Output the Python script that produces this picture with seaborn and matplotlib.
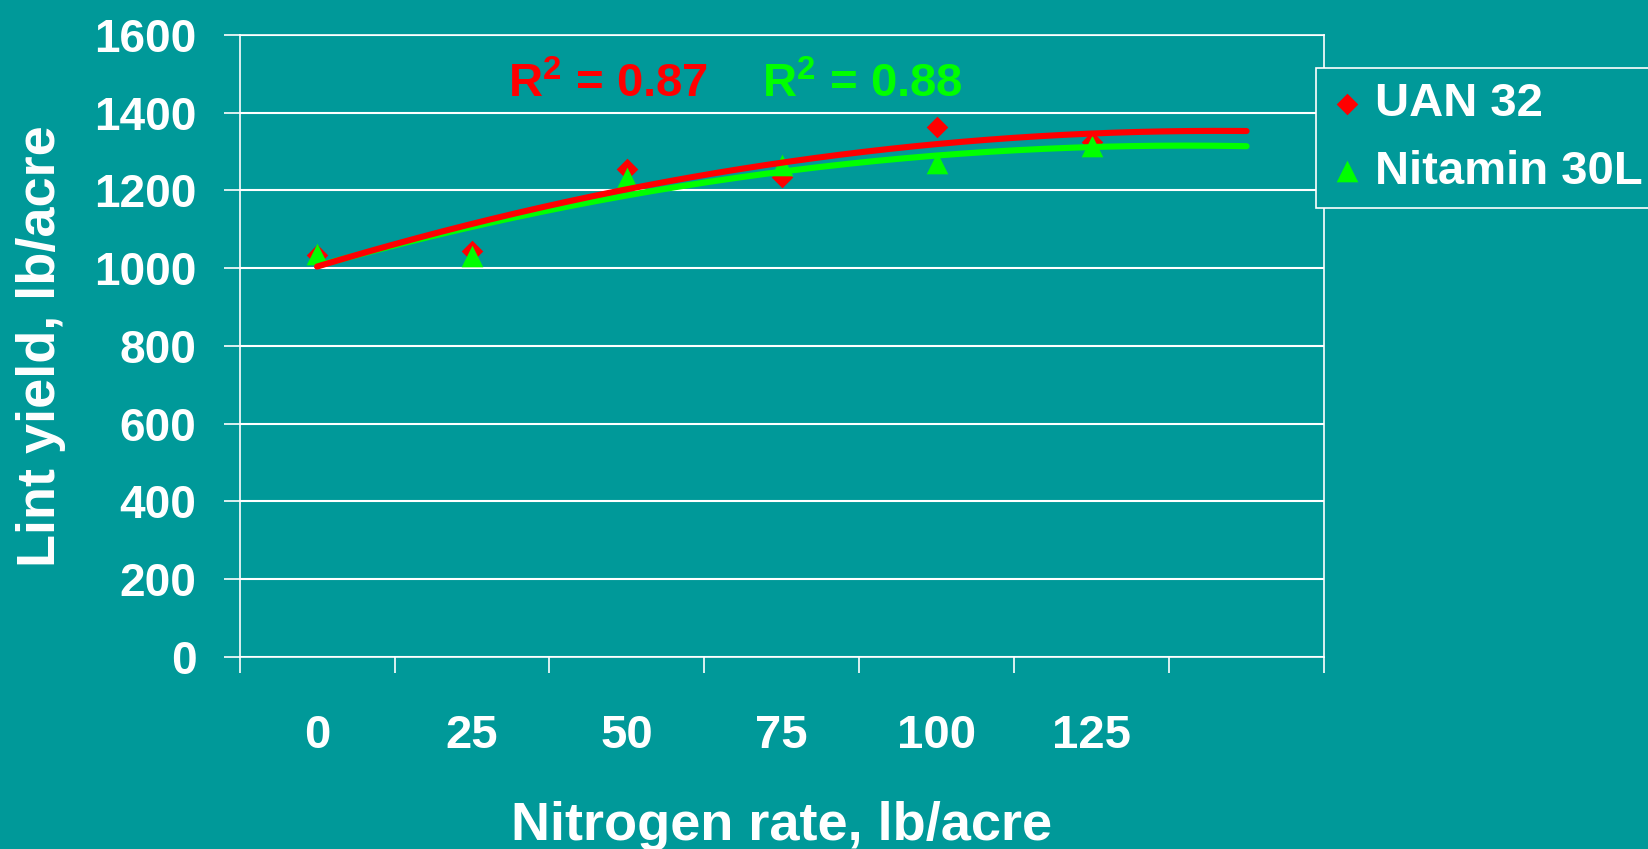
import numpy as np
import pandas as pd
import matplotlib
matplotlib.use("Agg")
import matplotlib.pyplot as plt
import seaborn as sns

# ── Data (lint yield, lb/acre) ───────────────────────────────────────────────
n_rates = ["0", "25", "50", "75", "100", "125"]
uan32 = [1033, 1045, 1255, 1235, 1363, 1325]
nitamin30l = [1035, 1032, 1231, 1266, 1270, 1313]
r2_uan = "0.87"
r2_nitamin = "0.88"
y_ticks = [0, 200, 400, 600, 800, 1000, 1200, 1400, 1600]

# ── Style ────────────────────────────────────────────────────────────────────
teal = "#009999"
red = "#FF0000"
green = "#00FF00"

sns.set_style("ticks")
plt.rcParams["font.family"] = ["Liberation Sans", "DejaVu Sans"]
plt.rcParams["font.weight"] = "bold"
plt.rcParams["mathtext.fontset"] = "custom"
plt.rcParams["mathtext.bf"] = "Liberation Sans:bold"
plt.rcParams["mathtext.rm"] = "Liberation Sans:bold"

pos = np.arange(1, len(n_rates) + 1)          # category slots
n_slots = len(n_rates) + 1                     # trendline goes forward one period

df = pd.DataFrame({
    "pos": np.concatenate([pos, pos]),
    "yield": uan32 + nitamin30l,
    "series": ["UAN 32"] * len(pos) + ["Nitamin 30L"] * len(pos),
})

fig = plt.figure(figsize=(16.48, 8.49), dpi=100, facecolor=teal)
ax = fig.add_axes([0.1454, 0.2261, 0.658, 0.733])
ax.set_facecolor(teal)

# markers
sns.scatterplot(data=df[df.series == "UAN 32"], x="pos", y="yield", marker="D",
                s=121, color=red, linewidth=0, ax=ax, label="UAN 32", zorder=3)
sns.scatterplot(data=df[df.series == "Nitamin 30L"], x="pos", y="yield", marker="^",
                s=243, color=green, linewidth=0, ax=ax, label="Nitamin 30L", zorder=4)

# 2nd order polynomial trendlines, extended one category forward
xs = np.linspace(1, n_slots, 300)
for vals, col in [(nitamin30l, green), (uan32, red)]:
    coef = np.polyfit(pos, vals, 2)
    ax.plot(xs, np.polyval(coef, xs), color=col, lw=4.4,
            solid_capstyle="round", zorder=5)

# ── Axes ─────────────────────────────────────────────────────────────────────
ax.set_xlim(0.5, n_slots + 0.5)
ax.set_ylim(0, 1600)
ax.set_xticks(np.arange(1, n_slots + 1))
ax.set_xticklabels(n_rates + [""])
ax.set_xticks(np.arange(0.5, n_slots + 1), minor=True)
ax.set_yticks(y_ticks)
ax.set_xlabel("")
ax.set_ylabel("")

ax.tick_params(axis="x", which="major", length=0, pad=41,
               labelsize=34, labelcolor="white")
ax.tick_params(axis="x", which="minor", length=11.5, width=1.2,
               color="white", direction="out")
ax.tick_params(axis="y", length=11.5, width=1.2, color="white", pad=19.5,
               labelsize=33, labelcolor="white")

ax.yaxis.grid(True, color="white", lw=1.5)
ax.xaxis.grid(False)
for sp in ax.spines.values():
    sp.set_visible(True)
    sp.set_color("white")
    sp.set_linewidth(1.2)

fig.text(782 / 1648, 1 - 840 / 849, "Nitrogen rate, lb/acre", color="white",
         fontsize=39, fontweight="bold", ha="center", va="baseline")
fig.text(41 / 1648, 1 - 346 / 849, "Lint yield, lb/acre", color="white",
         fontsize=39, fontweight="bold", rotation=90, ha="center", va="center")

fig.text(508 / 1648, 1 - 97 / 849, r"R$^{\mathbf{2}}$ = " + r2_uan, color=red,
         fontsize=34, fontweight="bold", ha="left", va="baseline")
fig.text(762 / 1648, 1 - 97 / 849, r"R$^{\mathbf{2}}$ = " + r2_nitamin, color=green,
         fontsize=34, fontweight="bold", ha="left", va="baseline")

leg = ax.legend(loc="upper left", bbox_to_anchor=(1315.5 / 1648, 1 - 68 / 849),
                bbox_transform=fig.transFigure, frameon=True, fancybox=False,
                facecolor=teal, edgecolor="white", fontsize=34, labelcolor="white",
                borderpad=0.3, labelspacing=0.5, handlelength=0.75,
                handletextpad=0.2, borderaxespad=0)
leg.get_frame().set_linewidth(1.2)
leg.get_frame().set_alpha(1)

fig.savefig("out.png", dpi=100, facecolor=teal)
